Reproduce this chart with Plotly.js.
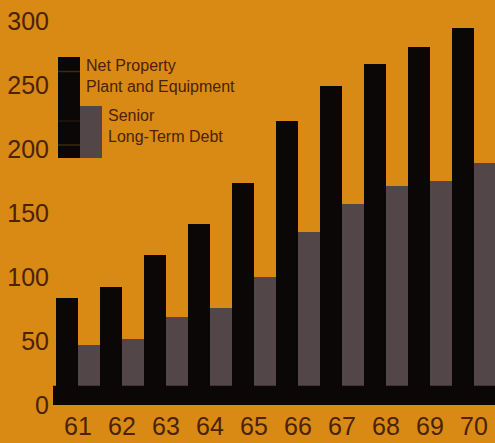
<!DOCTYPE html>
<html>
<head>
<meta charset="utf-8">
<script src="https://cdn.plot.ly/plotly-3.0.1.min.js"></script>
<style>
  html, body { margin: 0; padding: 0; background: #d98a14; }
  #chart { width: 495px; height: 443px; }
</style>
</head>
<body>
<div id="chart"></div>
<script>
const years = ['61', '62', '63', '64', '65', '66', '67', '68', '69', '70'];
const netProperty = [84, 92, 117, 142, 174, 222, 250, 267, 280, 295];
const seniorDebt = [47, 52, 69, 76, 100, 135, 157, 171, 175, 189];
const yTicks = [0, 50, 100, 150, 200, 250, 300];
const seriesNames = [['Net Property', 'Plant and Equipment'], ['Senior', 'Long-Term Debt']];
const baseBand = 15;

const bg = '#d98a14';
const ink = '#4a2208';
const black = '#0a0706';
const gray = '#524648';

const traces = [
  { type: 'bar', x: years, y: netProperty, name: seriesNames[0].join(' '),
    marker: { color: black, line: { width: 0 } }, hoverinfo: 'x+y' },
  { type: 'bar', x: years, y: seniorDebt, name: seriesNames[1].join(' '),
    marker: { color: gray, line: { width: 0 } }, hoverinfo: 'x+y' }
];

const font = { family: 'Liberation Sans, Arial, sans-serif', color: ink };

// helpers converting page pixels to paper fractions (plot area: left 56, width 439, top 5, height 400)
const px = v => (v - 56) / 439;
const py = v => (405 - v) / 400;

const layout = {
  width: 495, height: 443,
  margin: { l: 56, r: 0, t: 5, b: 38 },
  paper_bgcolor: bg, plot_bgcolor: bg,
  showlegend: false,
  barmode: 'group', bargap: 0, bargroupgap: 0,
  font: font,
  xaxis: {
    type: 'category', range: [-0.5, 9.48],
    showgrid: false, zeroline: false, showline: false, ticks: '',
    tickfont: { family: font.family, size: 25, color: ink },
    ticklabelstandoff: 4
  },
  yaxis: {
    range: [0, 313], tickvals: yTicks, ticktext: yTicks.map(String),
    showgrid: false, zeroline: false, showline: false, ticks: '',
    tickfont: { family: font.family, size: 25, color: ink },
    ticklabelstandoff: 6
  },
  shapes: [
    { type: 'rect', xref: 'paper', yref: 'y', x0: px(53), x1: 1, y0: 0, y1: baseBand,
      fillcolor: black, line: { width: 0 }, layer: 'above' },
    // legend swatches
    { type: 'rect', xref: 'paper', yref: 'paper', x0: px(58), x1: px(80), y0: py(158), y1: py(57),
      fillcolor: black, line: { width: 0 } },
    { type: 'rect', xref: 'paper', yref: 'paper', x0: px(80), x1: px(102), y0: py(158), y1: py(106),
      fillcolor: gray, line: { width: 0 } },
    { type: 'line', xref: 'paper', yref: 'paper', x0: px(58), x1: px(80), y0: py(71.5), y1: py(71.5),
      line: { color: '#3a2a10', width: 1.5 } },
    { type: 'line', xref: 'paper', yref: 'paper', x0: px(58), x1: px(80), y0: py(121), y1: py(121),
      line: { color: '#2a1e10', width: 1 } },
    { type: 'line', xref: 'paper', yref: 'paper', x0: px(58), x1: px(80), y0: py(145), y1: py(145),
      line: { color: '#3a2a10', width: 1.5 } }
  ],
  annotations: [
    { xref: 'paper', yref: 'paper', x: px(84), y: py(66), xanchor: 'left', yanchor: 'middle',
      text: seriesNames[0][0], showarrow: false, font: { family: font.family, size: 16, color: ink } },
    { xref: 'paper', yref: 'paper', x: px(84), y: py(87), xanchor: 'left', yanchor: 'middle',
      text: seriesNames[0][1], showarrow: false, font: { family: font.family, size: 16, color: ink } },
    { xref: 'paper', yref: 'paper', x: px(106), y: py(116), xanchor: 'left', yanchor: 'middle',
      text: seriesNames[1][0], showarrow: false, font: { family: font.family, size: 16, color: ink } },
    { xref: 'paper', yref: 'paper', x: px(106), y: py(137), xanchor: 'left', yanchor: 'middle',
      text: seriesNames[1][1], showarrow: false, font: { family: font.family, size: 16, color: ink } }
  ]
};

Plotly.newPlot('chart', traces, layout, { displayModeBar: false, responsive: false });
</script>
</body>
</html>
